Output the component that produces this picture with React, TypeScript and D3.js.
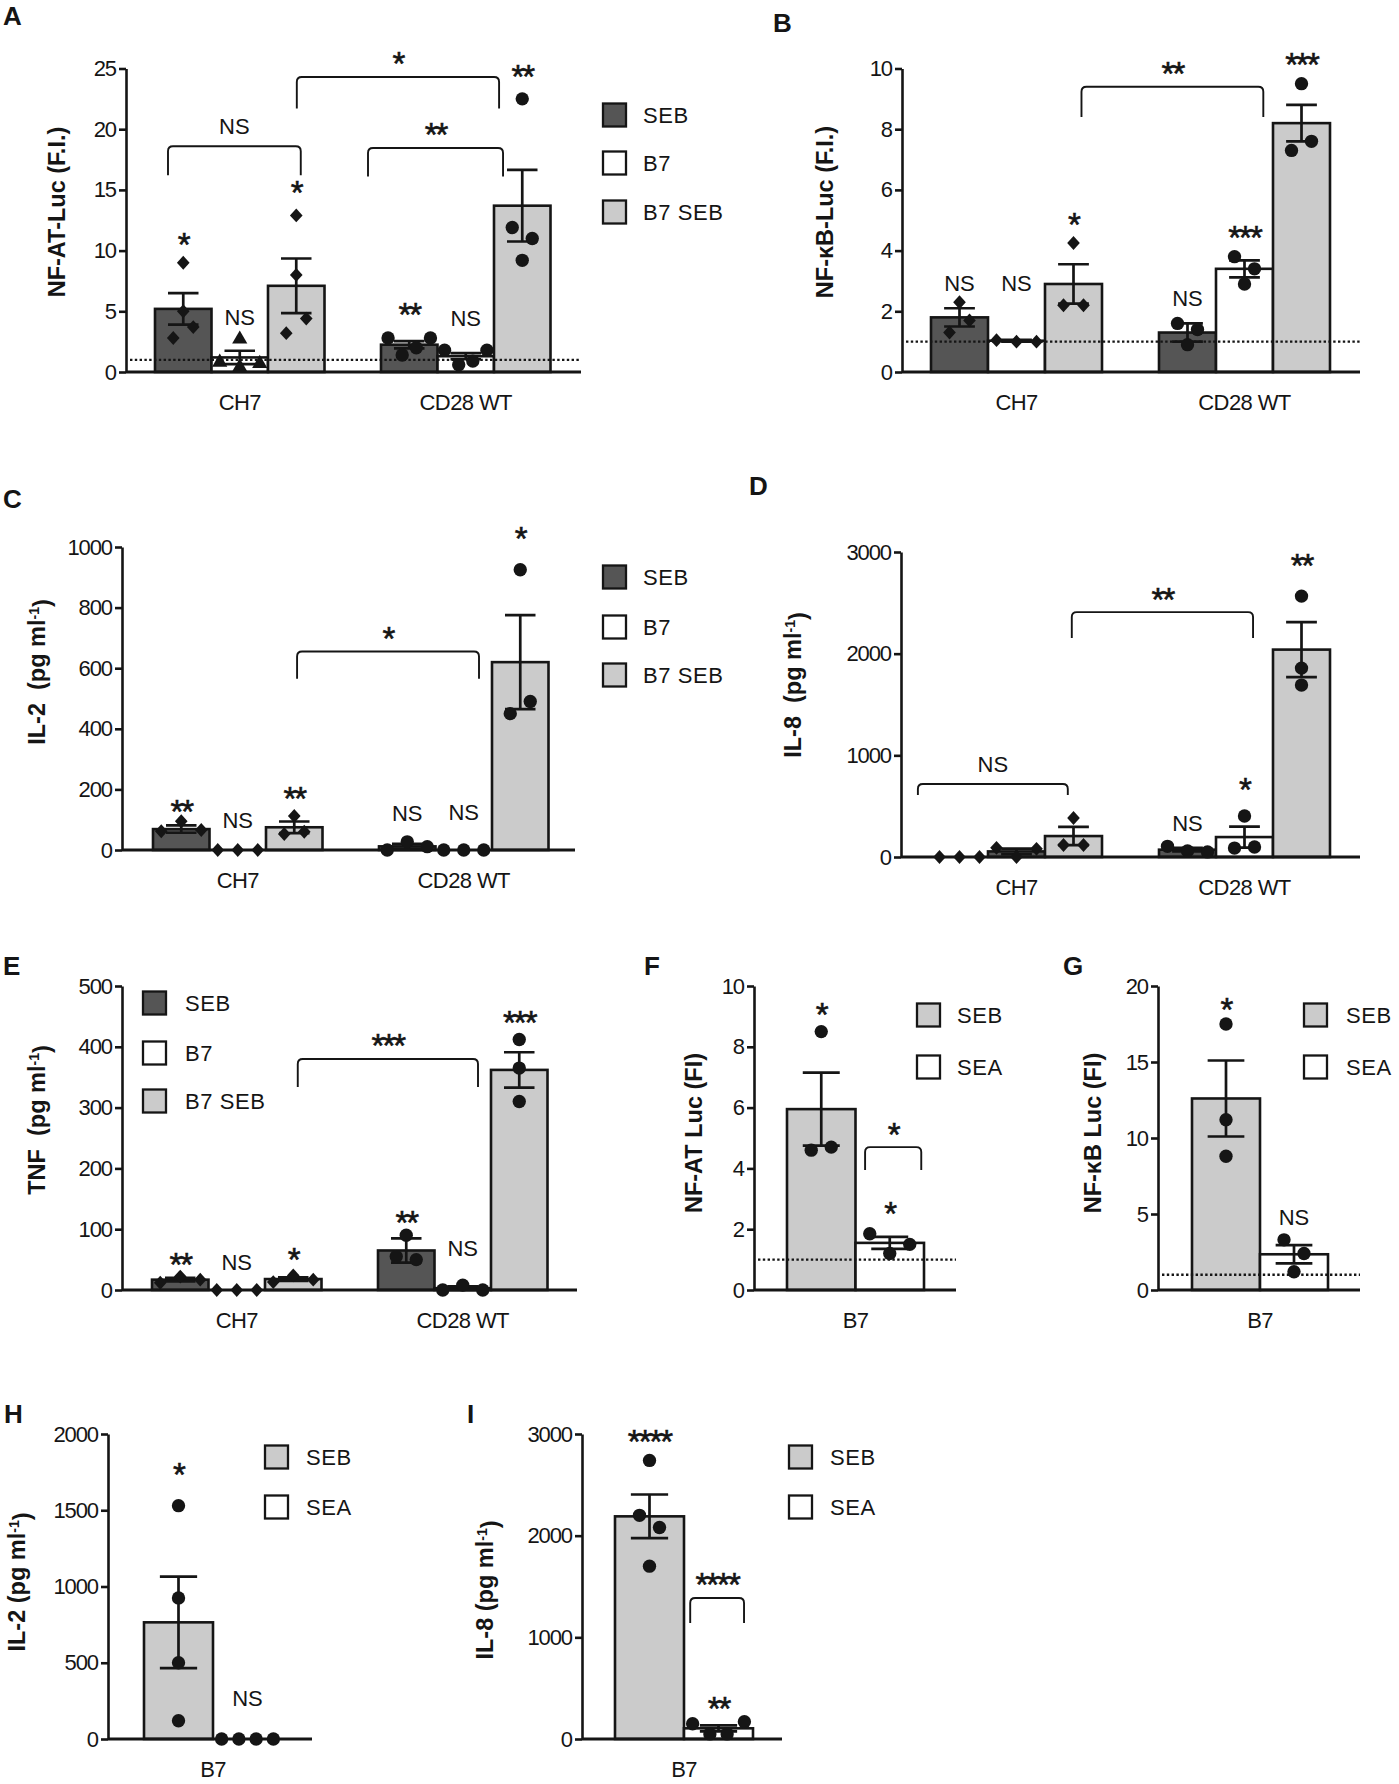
import { useEffect, useRef } from "react";
import * as d3 from "d3";

// ---- colours / fonts ----
const INK = "#151515";
const DARK = "#555555";
const GRAY = "#cbcbcb";
const WHITE = "#ffffff";
const SANS = "'Liberation Sans', Arial, sans-serif";

// ---- categories ----
const cellLines = ["CH7", "CD28 WT"];
const stimuli = ["SEB", "B7", "B7 SEB"];
const toxins = ["SEB", "SEA"];

// ---- A: NF-AT-Luc (F.I.) ----
const aMean = [5.2, 1.2, 7.1, 2.25, 1.3, 13.7];
const aSem = [1.3, 0.55, 2.25, 0.3, 0.25, 2.95];
const aPoints = [[9.0, 5.0, 2.8, 3.7], [2.7, 0.8, 0.4, 0.7], [12.9, 8.0, 3.2, 4.4], [2.8, 1.4, 2.0, 2.8], [1.8, 0.6, 0.9, 1.8], [22.5, 11.9, 11.0, 9.2]];
const aSig = ["*", "NS", "*", "**", "NS", "**"];
const aSigAt = [11.1, 4.5, 15.4, 5.35, 4.45, 24.9];

// ---- B: NF-kB-Luc (F.I.) ----
const bMean = [1.8, 1.03, 2.9, 1.3, 3.4, 8.2];
const bSem = [0.3, 0.03, 0.65, 0.3, 0.28, 0.6];
const bPoints = [[2.3, 1.3, 1.7], [1.05, 1.0, 1.0], [4.25, 2.2, 2.2], [1.6, 1.4, 0.9], [3.8, 3.4, 2.9], [9.5, 7.3, 7.6]];
const bSig = ["NS", "NS", "*", "NS", "***", "***"];
const bSigAt = [2.93, 2.93, 5.1, 2.43, 4.67, 10.36];

// ---- C: IL-2 ----
const cMean = [69, 0, 75, 12, 0, 620];
const cSem = [12, 0, 19, 8, 0, 155];
const cPoints = [[62, 95, 66], [0, 0, 0], [53, 112, 60], [0, 27, 11], [0, 0, 0], [925, 450, 490]];
const cSig = ["**", "NS", "**", "NS", "NS", "*"];
const cSigAt = [149, 99, 192, 122, 126, 1051];

// ---- D: IL-8 ----
const dMean = [0, 55, 206, 72, 196, 2040];
const dSem = [0, 28, 90, 17, 103, 270];
const dPoints = [[0, 0, 0], [90, 0, 80], [118, 383, 118], [105, 60, 50], [88, 403, 98], [2566, 1858, 1691]];
const dSig = ["", "", "", "NS", "*", "**"];
const dSigAt = [0, 0, 0, 334, 728, 2940];

// ---- E: TNF ----
const eMean = [17, 0, 18, 65, 3, 362];
const eSem = [3, 0, 3, 20, 3, 29];
const ePoints = [[12, 22, 17], [0, 0, 0], [13, 24, 17], [90, 55, 50], [0, 8, 0], [412, 365, 310]];
const eSig = ["**", "NS", "*", "**", "NS", "***"];
const eSigAt = [54, 46, 61, 123, 69, 452];

// ---- F: NF-AT Luc (FI), B7 ----
const fMean = [5.95, 1.55];
const fSem = [1.2, 0.2];
const fPoints = [[8.5, 4.6, 4.7], [1.85, 1.2, 1.5]];
const fSig = ["*", "*"];
const fSigAt = [9.28, 2.73];

// ---- G: NF-kB Luc (FI), B7 ----
const gMean = [12.6, 2.35];
const gSem = [2.5, 0.6];
const gPoints = [[17.5, 11.2, 8.8], [3.3, 2.4, 1.2]];
const gSig = ["*", "NS"];
const gSigAt = [18.9, 4.8];

// ---- H: IL-2, B7 ----
const hMean = [765, 0];
const hSem = [300, 0];
const hPoints = [[1530, 925, 500, 120], [0, 0, 0, 0]];
const hSig = ["*", "NS"];
const hSigAt = [1777, 269];

// ---- I: IL-8, B7 ----
const iMean = [2190, 105];
const iSem = [215, 30];
const iPoints = [[2740, 2200, 2080, 1700], [150, 50, 50, 170]];
const iSig = ["****", "**"];
const iSigAt = [2990, 364];

// comparison brackets: [from, to] in bar-slot units, top & leg ends in data units
const aBrackets = [
  { x1: 0.23, x2: 2.58, top: 18.6, leg: 16.2, label: "NS" },
  { x1: 3.77, x2: 6.16, top: 18.45, leg: 16.1, label: "**" },
  { x1: 2.51, x2: 6.09, top: 24.3, leg: 21.7, label: "*" },
];
const bBrackets = [{ x1: 2.64, x2: 5.83, top: 9.4, leg: 8.4, label: "**" }];
const cBrackets = [{ x1: 2.55, x2: 5.77, top: 655, leg: 565, label: "*" }];
const dBrackets = [
  { x1: -0.23, x2: 2.4, top: 718, leg: 610, label: "NS" },
  { x1: 2.47, x2: 5.65, top: 2409, leg: 2153, label: "**" },
];
const eBrackets = [{ x1: 2.58, x2: 5.77, top: 380, leg: 334, label: "***" }];
const fBrackets = [{ x1: 1.14, x2: 1.96, top: 4.7, leg: 3.95, label: "*" }];
const iBrackets = [{ x1: 1.09, x2: 1.87, top: 1387, leg: 1141, label: "****" }];

// ---- markers ----
const diamond: d3.SymbolType = {
  draw(ctx, size) {
    const r = Math.sqrt(size) / 2;
    ctx.moveTo(0, -r * 1.1);
    ctx.lineTo(r, 0);
    ctx.lineTo(0, r * 1.1);
    ctx.lineTo(-r, 0);
    ctx.closePath();
  },
};
const circle = d3.symbolCircle;
const triangle = d3.symbolTriangle;

interface Bar {
  slot: number;
  mean: number;
  sem: number;
  pts: number[];
  fill: string;
  marker: d3.SymbolType;
  sig: string;
  sigAt: number;
}
interface Bracket { x1: number; x2: number; top: number; leg: number; label: string }
interface PanelSpec {
  letter: string;
  letterPos: [number, number];
  axisX: number;
  slot0: number;
  slotW: number;
  xEnd: number;
  yTop: number;
  yBot: number;
  yMax: number;
  tickStep: number;
  yLabel: string[];
  yLabelPos: [number, number];
  bars: Bar[];
  brackets: Bracket[];
  refLine: boolean;
  groups: { text: string; center: number }[];
  legend: { x: number; textX: number; ys: number[]; labels: string[]; fills: string[] };
}

const sixSlots = [0, 1, 2, 4, 5, 6];
const stdFills = [DARK, WHITE, GRAY, DARK, WHITE, GRAY];
const stdMarks = [diamond, diamond, diamond, circle, circle, circle];

function makeBars(
  mean: number[], sem: number[], pts: number[][], sig: string[], sigAt: number[],
  fills: string[], marks: d3.SymbolType[], slots: number[]
): Bar[] {
  return mean.map((m, i) => ({
    slot: slots[i], mean: m, sem: sem[i], pts: pts[i], fill: fills[i], marker: marks[i], sig: sig[i], sigAt: sigAt[i],
  }));
}

const twoGroups = [
  { text: cellLines[0], center: 1.5 },
  { text: cellLines[1], center: 5.5 },
];
const b7Group = [{ text: "B7", center: 1 }];
const noLegend = { x: 0, textX: 0, ys: [], labels: [], fills: [] };

const panels: PanelSpec[] = [
  {
    letter: "A", letterPos: [3, 25],
    axisX: 126, slot0: 155, slotW: 56.5, xEnd: 581, yTop: 68.5, yBot: 372, yMax: 25, tickStep: 5,
    yLabel: ["NF-AT-Luc (F.I.)"], yLabelPos: [57, 212],
    bars: makeBars(aMean, aSem, aPoints, aSig, aSigAt, stdFills, [diamond, triangle, diamond, circle, circle, circle], sixSlots),
    brackets: aBrackets, refLine: true, groups: twoGroups,
    legend: { x: 603, textX: 643, ys: [115, 163, 212], labels: stimuli, fills: [DARK, WHITE, GRAY] },
  },
  {
    letter: "B", letterPos: [773, 32],
    axisX: 902, slot0: 931, slotW: 57, xEnd: 1360, yTop: 68.5, yBot: 372, yMax: 10, tickStep: 2,
    yLabel: ["NF-\u03baB-Luc (F.I.)"], yLabelPos: [825, 212],
    bars: makeBars(bMean, bSem, bPoints, bSig, bSigAt, stdFills, stdMarks, sixSlots),
    brackets: bBrackets, refLine: true, groups: twoGroups,
    legend: noLegend,
  },
  {
    letter: "C", letterPos: [3, 508],
    axisX: 122, slot0: 153, slotW: 56.5, xEnd: 575, yTop: 547, yBot: 850, yMax: 1000, tickStep: 200,
    yLabel: ["IL-2  (pg ml", "-1", ")"], yLabelPos: [37, 672],
    bars: makeBars(cMean, cSem, cPoints, cSig, cSigAt, stdFills, stdMarks, sixSlots),
    brackets: cBrackets, refLine: false, groups: twoGroups,
    legend: { x: 603, textX: 643, ys: [577, 627, 675], labels: stimuli, fills: [DARK, WHITE, GRAY] },
  },
  {
    letter: "D", letterPos: [749, 495],
    axisX: 901, slot0: 931, slotW: 57, xEnd: 1360, yTop: 552, yBot: 857, yMax: 3000, tickStep: 1000,
    yLabel: ["IL-8  (pg ml", "-1", ")"], yLabelPos: [793, 685],
    bars: makeBars(dMean, dSem, dPoints, dSig, dSigAt, [WHITE, DARK, GRAY, DARK, WHITE, GRAY], stdMarks, sixSlots),
    brackets: dBrackets, refLine: false, groups: twoGroups,
    legend: noLegend,
  },
  {
    letter: "E", letterPos: [3, 975],
    axisX: 122, slot0: 152, slotW: 56.5, xEnd: 577, yTop: 986, yBot: 1290, yMax: 500, tickStep: 100,
    yLabel: ["TNF  (pg ml", "-1", ")"], yLabelPos: [37, 1120],
    bars: makeBars(eMean, eSem, ePoints, eSig, eSigAt, stdFills, stdMarks, sixSlots),
    brackets: eBrackets, refLine: false, groups: twoGroups,
    legend: { x: 143, textX: 185, ys: [1003, 1053, 1101], labels: stimuli, fills: [DARK, WHITE, GRAY] },
  },
  {
    letter: "F", letterPos: [644, 975],
    axisX: 754, slot0: 787, slotW: 68.5, xEnd: 956, yTop: 986, yBot: 1290, yMax: 10, tickStep: 2,
    yLabel: ["NF-AT Luc (FI)"], yLabelPos: [694, 1133],
    bars: makeBars(fMean, fSem, fPoints, fSig, fSigAt, [GRAY, WHITE], [circle, circle], [0, 1]),
    brackets: fBrackets, refLine: true, groups: b7Group,
    legend: { x: 917, textX: 957, ys: [1015, 1067], labels: toxins, fills: [GRAY, WHITE] },
  },
  {
    letter: "G", letterPos: [1063, 975],
    axisX: 1158, slot0: 1192, slotW: 68, xEnd: 1360, yTop: 986, yBot: 1290, yMax: 20, tickStep: 5,
    yLabel: ["NF-\u03baB Luc (FI)"], yLabelPos: [1093, 1133],
    bars: makeBars(gMean, gSem, gPoints, gSig, gSigAt, [GRAY, WHITE], [circle, circle], [0, 1]),
    brackets: [], refLine: true, groups: b7Group,
    legend: { x: 1304, textX: 1346, ys: [1015, 1067], labels: toxins, fills: [GRAY, WHITE] },
  },
  {
    letter: "H", letterPos: [4, 1423],
    axisX: 108, slot0: 144, slotW: 69, xEnd: 312, yTop: 1434, yBot: 1739, yMax: 2000, tickStep: 500,
    yLabel: ["IL-2 (pg ml", "-1", ")"], yLabelPos: [17, 1582],
    bars: makeBars(hMean, hSem, hPoints, hSig, hSigAt, [GRAY, WHITE], [circle, circle], [0, 1]),
    brackets: [], refLine: false, groups: b7Group,
    legend: { x: 265, textX: 306, ys: [1457, 1507], labels: toxins, fills: [GRAY, WHITE] },
  },
  {
    letter: "I", letterPos: [467, 1423],
    axisX: 582, slot0: 615, slotW: 69, xEnd: 782, yTop: 1434, yBot: 1739, yMax: 3000, tickStep: 1000,
    yLabel: ["IL-8 (pg ml", "-1", ")"], yLabelPos: [485, 1590],
    bars: makeBars(iMean, iSem, iPoints, iSig, iSigAt, [GRAY, WHITE], [circle, circle], [0, 1]),
    brackets: iBrackets, refLine: false, groups: b7Group,
    legend: { x: 789, textX: 830, ys: [1457, 1507], labels: toxins, fills: [GRAY, WHITE] },
  },
];

// spread overlapping points sideways, like a scatter-dot plot
function swarm(vals: number[], cx: number, y: (v: number) => number, bw: number) {
  const ys = vals.map(y);
  const order = d3.range(vals.length).sort((a, b) => ys[a] - ys[b]);
  const clusters: number[][] = [];
  order.forEach((i, k) => {
    if (k > 0 && Math.abs(ys[i] - ys[order[k - 1]]) < 15) clusters[clusters.length - 1].push(i);
    else clusters.push([i]);
  });
  const xs = new Array(vals.length).fill(cx);
  clusters.forEach((c) => {
    if (c.length < 2) return;
    c.sort((a, b) => a - b);
    const span = Math.min((c.length - 1) * 20, bw * 0.75);
    const step = span / (c.length - 1);
    c.forEach((i, j) => (xs[i] = cx + (j - (c.length - 1) / 2) * step));
  });
  return vals.map((_, i) => [xs[i], ys[i]] as [number, number]);
}

function sigText(g: d3.Selection<SVGGElement, unknown, null, undefined>, label: string, x: number, yc: number) {
  const star = label.includes("*");
  const fs = star ? 33 : 22;
  g.append("text")
    .attr("x", x)
    .attr("y", yc + (star ? 0.56 : 0.36) * fs)
    .attr("text-anchor", "middle")
    .attr("font-family", SANS)
    .attr("font-size", fs)
    .attr("letter-spacing", star ? -2 : 0)
    .attr("fill", INK)
    .attr("stroke", star ? INK : "none")
    .attr("stroke-width", star ? 0.6 : 0)
    .text(label);
}

function drawPanel(root: d3.Selection<SVGSVGElement, unknown, null, undefined>, p: PanelSpec) {
  const g = root.append("g");
  const y = d3.scaleLinear().domain([0, p.yMax]).range([p.yBot, p.yTop]);
  const x = d3.scaleLinear().domain([0, 1]).range([p.slot0, p.slot0 + p.slotW]);
  const bw = p.slotW;

  // bars
  g.selectAll("rect.bar")
    .data(p.bars.filter((b) => b.mean > 0))
    .join("rect")
    .attr("class", "bar")
    .attr("x", (b) => x(b.slot))
    .attr("y", (b) => y(b.mean))
    .attr("width", bw)
    .attr("height", (b) => y(0) - y(b.mean))
    .attr("fill", (b) => b.fill)
    .attr("stroke", INK)
    .attr("stroke-width", 2.6);

  // dotted reference at 1 (fold induction)
  if (p.refLine) {
    g.append("line")
      .attr("x1", p.axisX + 4).attr("x2", p.xEnd)
      .attr("y1", y(1)).attr("y2", y(1))
      .attr("stroke", INK).attr("stroke-width", 2.4)
      .attr("stroke-dasharray", "2.4,2.4");
  }

  // y axis
  const ax = g.append("g")
    .attr("transform", `translate(${p.axisX},0)`)
    .call(
      d3.axisLeft(y)
        .tickValues(d3.range(0, p.yMax + 1e-9, p.tickStep))
        .tickFormat(d3.format("d"))
        .tickSize(7)
        .tickSizeOuter(0)
        .tickPadding(3)
    );
  ax.select(".domain").attr("stroke", INK).attr("stroke-width", 2.6);
  ax.selectAll(".tick line").attr("stroke", INK).attr("stroke-width", 2.6);
  ax.selectAll(".tick text")
    .attr("font-family", SANS)
    .attr("font-size", 22)
    .attr("letter-spacing", -1.1)
    .attr("fill", INK);

  // x baseline
  g.append("line")
    .attr("x1", p.axisX).attr("x2", p.xEnd)
    .attr("y1", y(0)).attr("y2", y(0))
    .attr("stroke", INK).attr("stroke-width", 2.8);

  // error bars
  p.bars.filter((b) => b.sem > 0).forEach((b) => {
    const cx = x(b.slot + 0.5);
    const cw = bw * 0.27;
    const hi = y(b.mean + b.sem);
    const lo = y(Math.max(0, b.mean - b.sem));
    const path = d3.path();
    path.moveTo(cx, lo);
    path.lineTo(cx, hi);
    path.moveTo(cx - cw, hi);
    path.lineTo(cx + cw, hi);
    path.moveTo(cx - cw, lo);
    path.lineTo(cx + cw, lo);
    g.append("path").attr("d", path.toString()).attr("fill", "none").attr("stroke", INK).attr("stroke-width", 2.7);
  });

  // individual points
  p.bars.forEach((b) => {
    const cx = x(b.slot + 0.5);
    const size = b.marker === triangle ? 100 : b.marker === circle ? 140 : 160;
    const sym = d3.symbol().type(b.marker).size(size);
    swarm(b.pts, cx, y, bw).forEach(([px, py]) => {
      g.append("path").attr("d", sym()).attr("transform", `translate(${px},${py})`).attr("fill", INK);
    });
  });

  // significance labels
  p.bars.forEach((b) => {
    if (b.sig) sigText(g, b.sig, x(b.slot + 0.5), y(b.sigAt));
  });

  // brackets
  p.brackets.forEach((br) => {
    const x1 = x(br.x1);
    const x2 = x(br.x2);
    const yt = y(br.top);
    const yl = y(br.leg);
    const r = 5;
    const path = d3.path();
    path.moveTo(x1, yl);
    path.lineTo(x1, yt + r);
    path.quadraticCurveTo(x1, yt, x1 + r, yt);
    path.lineTo(x2 - r, yt);
    path.quadraticCurveTo(x2, yt, x2, yt + r);
    path.lineTo(x2, yl);
    g.append("path").attr("d", path.toString()).attr("fill", "none").attr("stroke", INK).attr("stroke-width", 1.9);
    sigText(g, br.label, (x1 + x2) / 2, yt - 20);
  });

  // group labels
  p.groups.forEach((gr) => {
    g.append("text")
      .attr("x", x(gr.center))
      .attr("y", p.yBot + 38)
      .attr("text-anchor", "middle")
      .attr("font-family", SANS)
      .attr("font-size", 22)
      .attr("letter-spacing", -0.6)
      .attr("fill", INK)
      .text(gr.text);
  });

  // legend
  p.legend.labels.forEach((lab, i) => {
    const cy = p.legend.ys[i];
    g.append("rect")
      .attr("x", p.legend.x).attr("y", cy - 11.5)
      .attr("width", 23).attr("height", 23)
      .attr("fill", p.legend.fills[i]).attr("stroke", INK).attr("stroke-width", 2.3);
    g.append("text")
      .attr("x", p.legend.textX).attr("y", cy + 8)
      .attr("font-family", SANS).attr("font-size", 22).attr("letter-spacing", 0.6).attr("fill", INK)
      .text(lab);
  });

  // y label (bold, rotated)
  const yl = g.append("text")
    .attr("transform", `translate(${p.yLabelPos[0]},${p.yLabelPos[1]}) rotate(-90)`)
    .attr("text-anchor", "middle")
    .attr("dy", "0.35em")
    .attr("font-family", SANS)
    .attr("font-weight", "bold")
    .attr("font-size", 23.5)
    .attr("fill", INK)
    .style("white-space", "pre");
  yl.append("tspan").text(p.yLabel[0]);
  if (p.yLabel.length > 1) {
    yl.append("tspan").attr("dy", "-0.45em").attr("font-size", 14).text(p.yLabel[1]);
    yl.append("tspan").attr("dy", "0.45em").text(p.yLabel[2]);
  }

  // panel letter
  g.append("text")
    .attr("x", p.letterPos[0]).attr("y", p.letterPos[1])
    .attr("font-family", SANS).attr("font-weight", "bold").attr("font-size", 26).attr("fill", INK)
    .text(p.letter);
}

export default function App() {
  const ref = useRef<SVGSVGElement>(null);

  useEffect(() => {
    const svg = d3.select(ref.current!);
    svg.selectAll("*").remove();
    svg.append("rect").attr("width", 1399).attr("height", 1784).attr("fill", "#fff");
    panels.forEach((p) => drawPanel(svg, p));
  }, []);

  return (
    <svg
      ref={ref}
      width={1399}
      height={1784}
      style={{ position: "absolute", left: 0, top: 0, display: "block", background: "#fff" }}
    />
  );
}
